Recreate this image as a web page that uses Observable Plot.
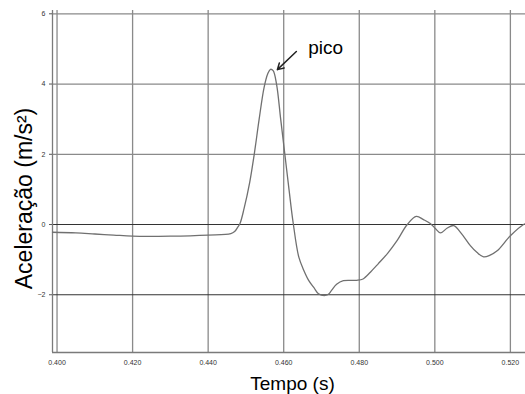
<!DOCTYPE html>
<html>
<head>
<meta charset="utf-8">
<script src="https://cdn.jsdelivr.net/npm/d3@7"></script>
<script src="https://cdn.jsdelivr.net/npm/@observablehq/plot@0.6"></script>
<style>
  html, body { margin: 0; padding: 0; background: #fff; }
  #chart { width: 525px; height: 394px; }
</style>
</head>
<body>
<div id="chart"></div>
<script>
// Time (s) and acceleration (m/s²)
const tempo = [
  0.3988, 0.405, 0.410, 0.415, 0.420, 0.430, 0.440, 0.446, 0.4470, 0.4478,
  0.4484, 0.4495, 0.4510, 0.4522, 0.4535, 0.4548, 0.4558, 0.4565, 0.4572, 0.4581,
  0.4592, 0.4603, 0.4614, 0.4625, 0.4640, 0.4653, 0.4666, 0.4680, 0.4692, 0.4710,
  0.4720, 0.4727, 0.4740, 0.4758, 0.4793, 0.4810, 0.4830, 0.4850, 0.4875, 0.4900,
  0.4927, 0.4951, 0.4970, 0.4988, 0.5002, 0.5015, 0.5033, 0.5050, 0.5070, 0.5094,
  0.5112, 0.5129, 0.5145, 0.5165, 0.5200, 0.5235, 0.5240
];
const aceleracao = [
  -0.22, -0.24, -0.27, -0.30, -0.33, -0.33, -0.30, -0.26, -0.20, -0.08,
  0.02, 0.45, 1.20, 2.00, 3.00, 3.90, 4.30, 4.42, 4.38, 4.00,
  3.00, 2.00, 1.00, 0.05, -0.93, -1.30, -1.59, -1.80, -1.97, -2.02,
  -1.97, -1.87, -1.70, -1.60, -1.59, -1.55, -1.35, -1.12, -0.82, -0.46,
  0.00, 0.23, 0.14, 0.03, -0.12, -0.24, -0.10, -0.03, -0.25, -0.60,
  -0.80, -0.92, -0.88, -0.75, -0.32, 0.00, 0.02
];
const xTicks = [0.400, 0.420, 0.440, 0.460, 0.480, 0.500, 0.520];
const yTicks = [6, 4, 2, 0, -2];
const yGridLight = [6, 4, 2];
const yGridDark = [0, -2];
const xDomain = [0.3988, 0.5240];
const yDomain = [-3.644, 6.094];
const annotation = [{text: "pico", x: 0.4665, y: 4.86}];
const arrowData = [{x1: 0.46335, y1: 4.925, x2: 0.45832, y2: 4.41}];

const data = tempo.map((t, i) => ({t, a: aceleracao[i]}));
const font = "'Liberation Sans', Arial, sans-serif";

const chart = Plot.plot({
  width: 525,
  height: 394,
  marginLeft: 52,
  marginRight: 0,
  marginTop: 10,
  marginBottom: 42,
  style: {fontFamily: font, background: "#fff", color: "#000"},
  x: {domain: xDomain},
  y: {domain: yDomain},
  marks: [
    Plot.ruleX(xTicks, {stroke: "#8a8a8a", strokeWidth: 1.3}),
    Plot.ruleY(yGridLight, {stroke: "#8a8a8a", strokeWidth: 1.3}),
    Plot.ruleY(yGridDark, {stroke: "#333", strokeWidth: 1.2}),
    Plot.ruleX([xDomain[0]], {stroke: "#7a7a7a", strokeWidth: 1.3}),
    Plot.ruleY([yDomain[0]], {stroke: "#7a7a7a", strokeWidth: 1.3}),
    Plot.axisY({ticks: yTicks, tickSize: 3, tickPadding: 4, fontSize: 7, label: null, stroke: "#555", fill: "#333"}),
    Plot.axisX({ticks: xTicks, tickSize: 0, tickPadding: 8, fontSize: 7, label: null, fill: "#333", tickFormat: d3.format(".3f")}),
    Plot.line(data, {x: "t", y: "a", stroke: "#707070", strokeWidth: 1.3, curve: "catmull-rom"}),
    Plot.arrow(arrowData, {x1: "x1", y1: "y1", x2: "x2", y2: "y2", stroke: "#222", strokeWidth: 1.5, headLength: 7}),
    Plot.text(annotation, {x: "x", y: "y", text: "text", textAnchor: "start", lineAnchor: "bottom", fontSize: 19, fill: "#000"}),
    Plot.text(["Tempo (s)"], {frameAnchor: "bottom", textAnchor: "middle", lineAnchor: "middle", dx: 3.5, dy: 31, fontSize: 19, fill: "#000"}),
    Plot.text(["Aceleração (m/s²)"], {frameAnchor: "left", textAnchor: "middle", lineAnchor: "middle", dx: -28, dy: 17, rotate: -90, fontSize: 23, fill: "#000"})
  ]
});
document.getElementById("chart").appendChild(chart);
</script>
</body>
</html>
